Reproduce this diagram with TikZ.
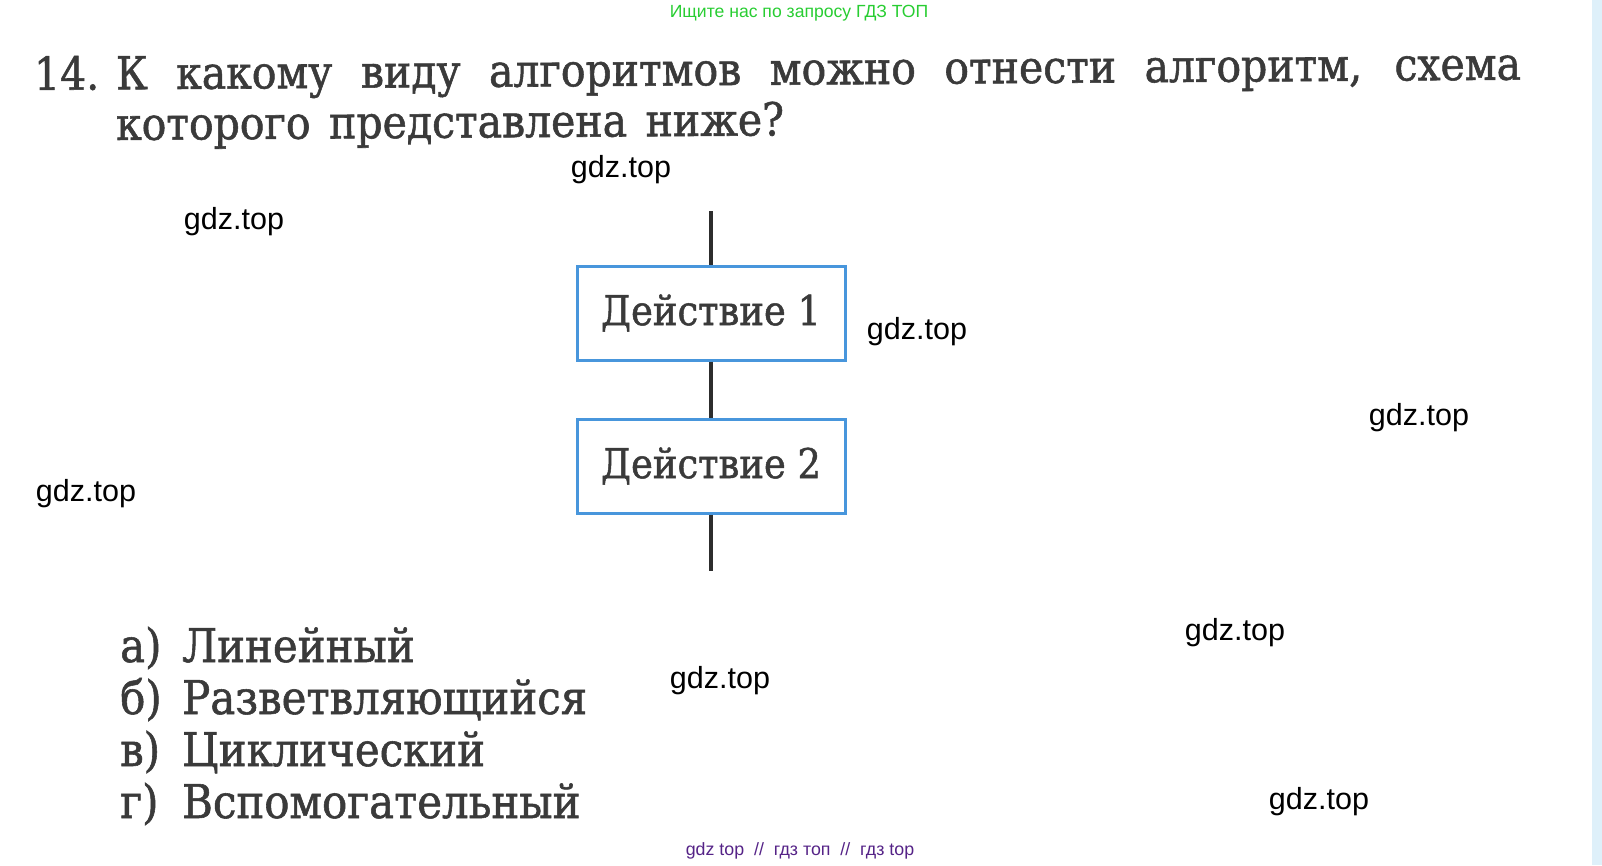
\documentclass[tikz,border=0pt]{standalone}
\usepackage{fontspec}
\setmainfont{DejaVu Serif}[FakeStretch=0.9,FakeBold=1.2]
\newfontfamily\wmfont{Liberation Sans}
\definecolor{boxblue}{RGB}{72,150,220}
\definecolor{inkgray}{RGB}{45,45,45}
\definecolor{textgray}{RGB}{58,58,58}
\definecolor{wmgreen}{RGB}{40,205,50}
\definecolor{wmpurple}{RGB}{85,35,135}
\definecolor{stripblue}{RGB}{222,240,250}
\tikzset{
  actbox/.style={draw=boxblue, line width=3pt, minimum width=268pt, minimum height=94pt, inner sep=0pt, text=textgray, font=\fontsize{41}{48}\selectfont},
  conn/.style={draw=inkgray, line width=3.5pt},
  wm/.style={font=\wmfont\fontsize{30.5}{34}\selectfont, text=black, inner sep=0pt},
  qtext/.style={font=\fontsize{45.5}{52}\selectfont, text=textgray, inner sep=0pt},
  atext/.style={font=\fontsize{46.5}{52}\selectfont, text=textgray, inner sep=0pt, anchor=base west},
}
\begin{document}
\begin{tikzpicture}[x=1pt,y=-1pt]
\useasboundingbox (0,0) rectangle (1602,865);
\fill[stripblue] (1592,0) rectangle (1602,865);
% header / footer
\node[font=\wmfont\fontsize{17.6}{20}\selectfont, text=wmgreen, inner sep=0pt, anchor=base] (hdr) at (799,17) {Ищите нас по запросу ГДЗ ТОП};
\node[font=\wmfont\fontsize{17.8}{20}\selectfont, text=wmpurple, inner sep=0pt, anchor=base] (ftr) at (800,855) {gdz top \ // \ гдз топ \ // \ гдз top};
% question
\node[qtext, anchor=base west, rotate=0.4] (q1) at (34,90) {\makebox[82pt][l]{14.}\makebox[1405pt][s]{К какому виду алгоритмов можно отнести алгоритм, схема}};
\node[qtext, anchor=base west, rotate=0.4] (q2) at (116,140) {\makebox[668pt][s]{которого представлена ниже?}};
% flowchart
\coordinate (top) at (711,211);
\coordinate (bot) at (711,571);
\node[actbox] (b1) at (711,313) {Действие 1};
\node[actbox] (b2) at (711,466) {Действие 2};
\draw[conn] (top) -- (b1.north);
\draw[conn] (b1.south) -- (b2.north);
\draw[conn] (b2.south) -- (bot);
% answers
\node[atext] (la) at (120,662) {а)};
\node[atext] (wa) at (182,662) {Линейный};
\node[atext] (lb) at (120,714) {б)};
\node[atext] (wb) at (182,714) {Разветвляющийся};
\node[atext] (lc) at (120,766) {в)};
\node[atext] (wc) at (182,766) {Циклический};
\node[atext] (ld) at (120,818) {г)};
\node[atext] (wd) at (182,818) {Вспомогательный};
% watermarks
\node[wm] (w1) at (621,170) {gdz.top};
\node[wm] (w2) at (234,222) {gdz.top};
\node[wm] (w3) at (917,332) {gdz.top};
\node[wm] (w4) at (1419,418) {gdz.top};
\node[wm] (w5) at (86,494) {gdz.top};
\node[wm] (w6) at (1235,633) {gdz.top};
\node[wm] (w7) at (720,681) {gdz.top};
\node[wm] (w8) at (1319,802) {gdz.top};
\end{tikzpicture}
\end{document}
